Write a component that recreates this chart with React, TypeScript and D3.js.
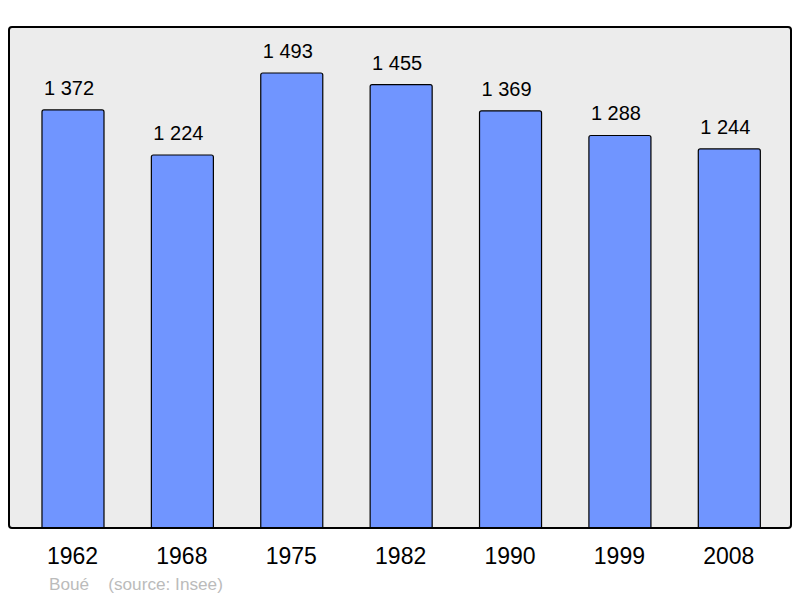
import React from "react";
import * as d3 from "d3";

const years = ["1962", "1968", "1975", "1982", "1990", "1999", "2008"];
const population = [1372, 1224, 1493, 1455, 1369, 1288, 1244];
const valueLabels = ["1 372", "1 224", "1 493", "1 455", "1 369", "1 288", "1 244"];
const commune = "Boué";
const source = "(source: Insee)";

export default function App() {
  const W = 800, H = 598;
  const frame = { x: 9, y: 27, w: 782, h: 501 };
  const x = d3.scaleBand<string>()
    .domain(years)
    .range([18.3, 784])
    .paddingInner(0.433)
    .paddingOuter(0.2165);
  const y = d3.scaleLinear().domain([0, 1644]).range([528, 27]);
  const font = "'Liberation Sans', Arial, sans-serif";

  const barPath = (x0: number, y0: number, w: number, h: number, r: number) =>
    `M${x0},${y0 + h} V${y0 + r} Q${x0},${y0} ${x0 + r},${y0} H${x0 + w - r} Q${x0 + w},${y0} ${x0 + w},${y0 + r} V${y0 + h}`;

  return (
    <svg width={W} height={H} style={{ position: "absolute", left: 0, top: 0 }} fontFamily={font}>
      <rect x={0} y={0} width={W} height={H} fill="#fff" />
      <rect x={frame.x} y={frame.y} width={frame.w} height={frame.h} rx={3} ry={3} fill="#ececec" stroke="none" />
      {years.map((yr, i) => {
        const bx = x(yr)!;
        const bw = x.bandwidth();
        const by = y(population[i]);
        return (
          <g key={yr}>
            <path d={barPath(bx, by, bw, 528 - by, 2)} fill="#7095ff" stroke="#000" strokeWidth={1.2} />
            <text x={bx + bw / 2 - 4} y={by - 15} textAnchor="middle" fontSize={20} fill="#000">{valueLabels[i]}</text>
            <text x={bx + bw / 2 - 0.5} y={564} textAnchor="middle" fontSize={23} fill="#000">{yr}</text>
          </g>
        );
      })}
      <rect x={frame.x} y={frame.y} width={frame.w} height={frame.h} rx={3} ry={3} fill="none" stroke="#000" strokeWidth={2} />
      <text x={49} y={590} fontSize={17.2} fill="#bbbbbb" xmlSpace="preserve">{commune + "    " + source}</text>
    </svg>
  );
}
